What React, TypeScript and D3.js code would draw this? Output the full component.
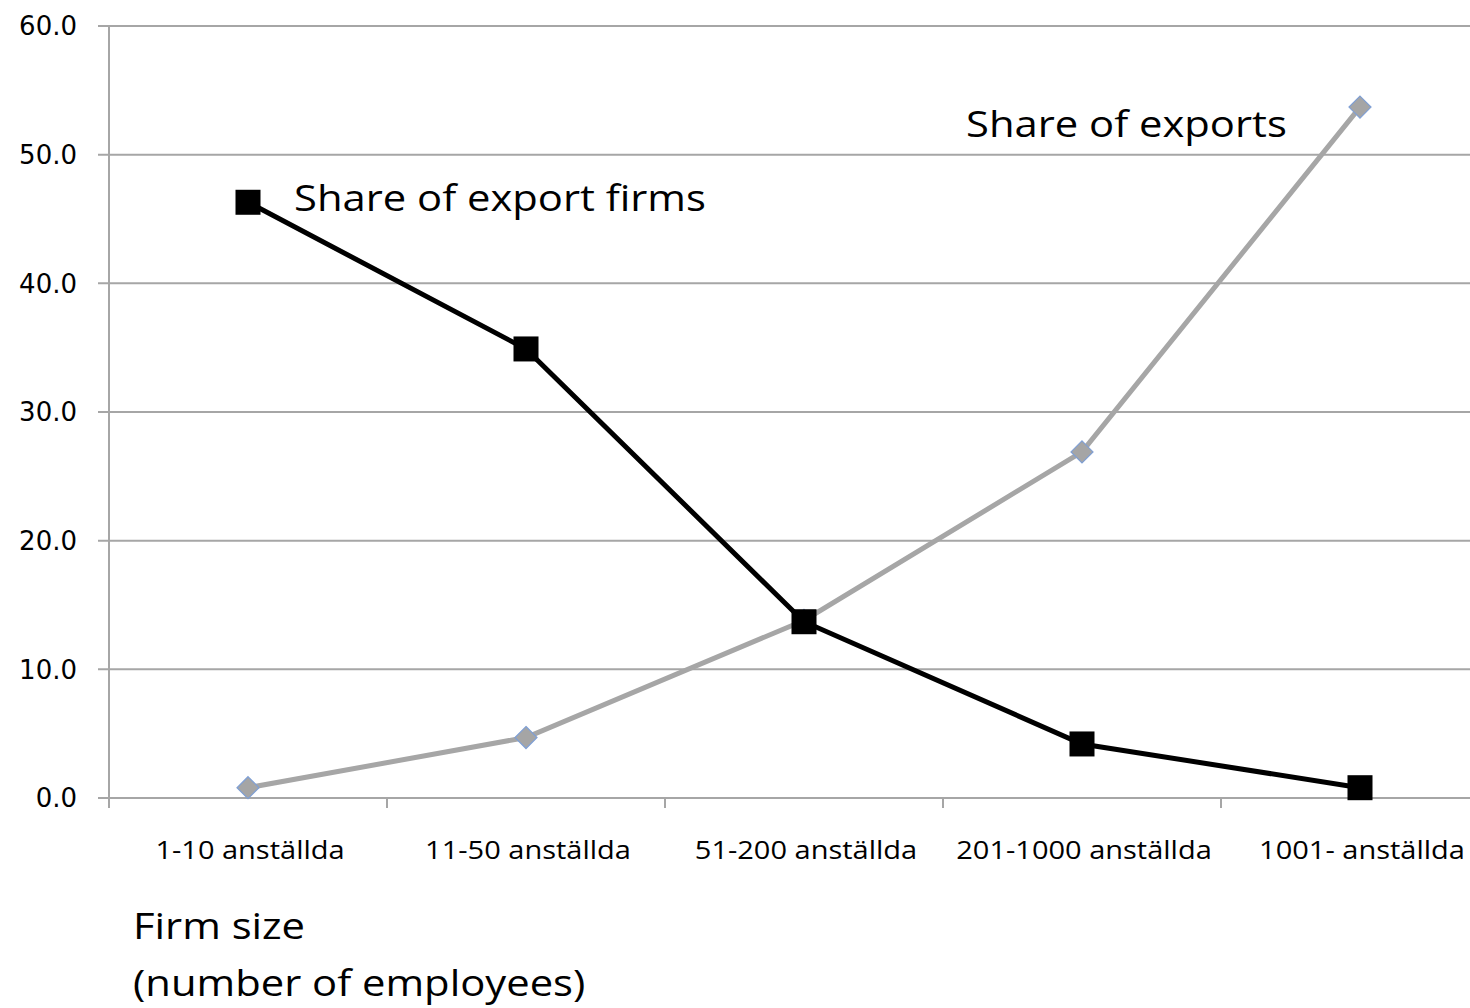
import React from 'react';
import * as d3 from 'd3';

const categories = ['1-10 anställda', '11-50 anställda', '51-200 anställda', '201-1000 anställda', '1001- anställda'];
const shareOfExportFirms = [46.3, 34.9, 13.7, 4.2, 0.8];
const shareOfExports = [0.8, 4.7, 13.8, 26.9, 53.7];
const yTicks = [0, 10, 20, 30, 40, 50, 60];

const W = 1470;
const H = 1008;
const margin = { top: 26, left: 109, bottom: 210 };
const bandW = 278;
const plotBottom = H - margin.bottom;
// the original text is rendered a bit wider than the font we have
const stretch = 1.16;

const Label = ({ x, y, size, anchor = 'start', children }:
  { x: number; y: number; size: number; anchor?: string; children: React.ReactNode }) => (
  <text transform={`translate(${x},${y}) scale(${stretch},1)`} dy="0.35em" textAnchor={anchor}
    style={{ fontFamily: '"Open Sans", Lato, sans-serif', fontSize: size }} fill="#000">
    {children}
  </text>
);

const App = () => {
  const x = d3.scaleBand<string>()
    .domain(categories)
    .range([margin.left, margin.left + bandW * categories.length]);
  const y = d3.scaleLinear().domain([0, 60]).range([plotBottom, margin.top]);
  const cx = (c: string) => x(c)! + x.bandwidth() / 2;

  const line = d3.line<number>()
    .x((_, i) => cx(categories[i]))
    .y(d => y(d));

  const grid = '#a6a6a6';

  return (
    <svg width={W} height={H} style={{ display: 'block', position: 'absolute', left: 0, top: 0 }}>
      <rect width={W} height={H} fill="#fff" />
      {/* gridlines + y ticks */}
      {yTicks.map(t => (
        <g key={t}>
          <line x1={margin.left - 11} x2={W} y1={y(t)} y2={y(t)} stroke={grid} strokeWidth={2} />
          <text x={77} y={y(t)} dy="0.36em" textAnchor="end"
            style={{ fontFamily: '"DejaVu Sans", sans-serif', fontSize: 26 }} fill="#000">
            {t.toFixed(1)}
          </text>
        </g>
      ))}
      {/* y axis */}
      <line x1={margin.left} x2={margin.left} y1={margin.top} y2={plotBottom + 10} stroke={grid} strokeWidth={2} />
      {/* x ticks */}
      {categories.map(c => (
        <line key={c} x1={x(c)! + bandW} x2={x(c)! + bandW} y1={plotBottom} y2={plotBottom + 10} stroke={grid} strokeWidth={2} />
      ))}
      {categories.map(c => (
        <Label key={c} x={cx(c) + 2} y={850} size={25} anchor="middle">{c}</Label>
      ))}
      {/* series: share of exports */}
      <path d={line(shareOfExports)!} fill="none" stroke="#a6a6a6" strokeWidth={5} />
      {shareOfExports.map((v, i) => {
        const px = cx(categories[i]);
        const py = y(v);
        return (
          <path key={i} d={`M${px},${py - 11}L${px + 11},${py}L${px},${py + 11}L${px - 11},${py}Z`}
            fill="#a5a5a5" stroke="#7f9fd4" strokeWidth={1.2} />
        );
      })}
      {/* series: share of export firms */}
      <path d={line(shareOfExportFirms)!} fill="none" stroke="#000" strokeWidth={5} />
      {shareOfExportFirms.map((v, i) => (
        <rect key={i} x={cx(categories[i]) - 12.5} y={y(v) - 12.5} width={25} height={25} fill="#000" />
      ))}
      {/* annotations */}
      <Label x={294} y={198} size={36}>Share of export firms</Label>
      <Label x={966} y={124} size={36}>Share of exports</Label>
      <Label x={133} y={926} size={36}>Firm size</Label>
      <Label x={133} y={983} size={36}>(number of employees)</Label>
    </svg>
  );
};

export default App;
